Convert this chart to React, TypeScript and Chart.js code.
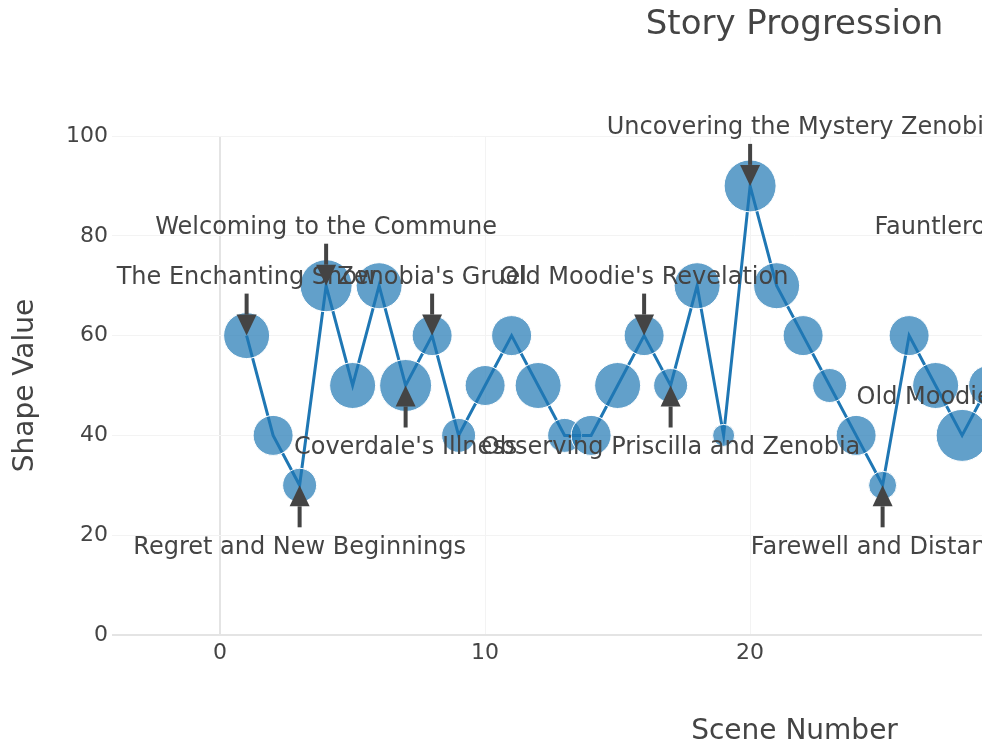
import React, { useEffect, useRef } from "react";
import { Chart, registerables } from "chart.js";

Chart.register(...registerables);

// ---- data ----
const scenes = [
  1, 2, 3, 4, 5, 6, 7, 8, 9, 10, 11, 12, 13, 14, 15, 16,
  17, 18, 19, 20, 21, 22, 23, 24, 25, 26, 27, 28, 29, 30, 31, 32,
];
const shapeValues = [
  60, 40, 30, 70, 50, 70, 50, 60, 40, 50, 60, 50, 40, 40, 50, 60,
  50, 70, 40, 90, 70, 60, 50, 40, 30, 60, 50, 40, 50, 60, 70, 90,
];
const intensity = [
  7, 6, 5, 8, 7, 7, 8, 6, 5, 6, 6, 7, 5, 6, 7, 6,
  5, 7, 3, 8, 7, 6, 5, 6, 4, 6, 7, 8, 6, 6, 7, 8,
];
const eventScenes = [1, 3, 4, 7, 8, 16, 17, 20, 25, 30, 31, 32];
const eventLabels = [
  "The Enchanting Show",
  "Regret and New Beginnings",
  "Welcoming to the Commune",
  "Coverdale's Illness",
  "Zenobia's Gruel",
  "Old Moodie's Revelation",
  "Observing Priscilla and Zenobia",
  "Uncovering the Mystery",
  "Farewell and Distance",
  "Old Moodie's Last Request",
  "Fauntleroy's Story Revealed",
  "Zenobia's Tragic Confession",
];
const eventPlacement = [
  "above", "below", "above", "below", "above", "above",
  "below", "above", "below", "below", "above", "above",
];
const xTickStep = 10;
const yTickStep = 20;

const FONT = "'DejaVu Sans', Verdana, sans-serif";
const TEXT = "#444";

const annotationPlugin = {
  id: "storyAnnotations",
  afterDatasetsDraw(chart: any) {
    const { ctx, scales } = chart;
    const xs = scales.x;
    const ys = scales.y;
    ctx.save();
    eventScenes.forEach((scene, i) => {
      const idx = scenes.indexOf(scene);
      const px = xs.getPixelForValue(scene);
      const py = ys.getPixelForValue(shapeValues[idx]);
      const dir = eventPlacement[i] === "above" ? -1 : 1;
      const textY = py + dir * 60;
      const tailY = textY - dir * 18;
      const headLen = 21;
      const headHalf = 10;
      const baseY = py + dir * headLen;
      ctx.strokeStyle = TEXT;
      ctx.lineWidth = 4;
      ctx.beginPath();
      ctx.moveTo(px, tailY);
      ctx.lineTo(px, baseY);
      ctx.stroke();
      ctx.fillStyle = TEXT;
      ctx.beginPath();
      ctx.moveTo(px, py);
      ctx.lineTo(px - headHalf, baseY);
      ctx.lineTo(px + headHalf, baseY);
      ctx.closePath();
      ctx.fill();
      ctx.font = `24px ${FONT}`;
      ctx.textAlign = "center";
      ctx.textBaseline = "middle";
      ctx.fillText(eventLabels[i], px, textY + 2);
    });
    ctx.restore();
  },
};

export default function App() {
  const ref = useRef<HTMLCanvasElement | null>(null);

  useEffect(() => {
    if (!ref.current) return;
    const W = 1586;
    const plotRight = 1477;
    const chart = new Chart(ref.current, {
      type: "line",
      data: {
        datasets: [
          {
            label: "Shape Value",
            data: scenes.map((s, i) => ({ x: s, y: shapeValues[i] })),
            borderColor: "#1f77b4",
            borderWidth: 3,
            backgroundColor: "rgba(31,119,180,0.7)",
            pointBackgroundColor: "rgba(31,119,180,0.7)",
            pointBorderColor: "#ffffff",
            pointBorderWidth: 1,
            pointRadius: intensity.map((v) => (v * 6 + 4) / 2),
            pointHoverRadius: intensity.map((v) => (v * 6 + 4) / 2),
            tension: 0,
            fill: false,
            clip: false as any,
          },
        ],
      },
      options: {
        animation: false,
        responsive: false,
        devicePixelRatio: 1,
        events: [],
        layout: { padding: { top: 0, left: 0, right: W - plotRight, bottom: 0 } },
        plugins: {
          legend: { display: false },
          tooltip: { enabled: false },
          title: {
            display: true,
            text: "Story Progression",
            fullSize: false,
            color: TEXT,
            font: { family: FONT, size: 34, weight: "normal" },
            padding: { top: 5, bottom: 90.2 },
          },
        },
        scales: {
          x: {
            type: "linear",
            min: -4.08,
            max: 47.43,
            afterFit: (s: any) => {
              s.height = 125;
            },
            border: { display: false },
            grid: {
              drawTicks: false,
              color: (c: any) => (c.tick && c.tick.value === 0 ? "#e4e4e4" : "#f3f3f3"),
              lineWidth: (c: any) => (c.tick && c.tick.value === 0 ? 2 : 1),
            },
            ticks: {
              stepSize: xTickStep,
              includeBounds: false,
              padding: 5,
              color: TEXT,
              font: { family: FONT, size: 22 },
              maxRotation: 0,
            },
            title: {
              display: true,
              text: "Scene Number",
              color: TEXT,
              font: { family: FONT, size: 28 },
              padding: { top: 0, bottom: 11 },
            },
          },
          y: {
            type: "linear",
            min: 0,
            max: 100,
            afterFit: (s: any) => {
              s.width = 112;
            },
            border: { display: false },
            grid: {
              drawTicks: false,
              color: (c: any) => (c.tick && c.tick.value === 0 ? "#e4e4e4" : "#f3f3f3"),
              lineWidth: (c: any) => (c.tick && c.tick.value === 0 ? 2 : 1),
            },
            ticks: {
              stepSize: yTickStep,
              padding: 4,
              color: TEXT,
              font: { family: FONT, size: 22 },
            },
            title: {
              display: true,
              text: "Shape Value",
              color: TEXT,
              font: { family: FONT, size: 28 },
              padding: { top: 8.7, bottom: 0 },
            },
          },
        },
      },
      plugins: [annotationPlugin],
    });
    return () => chart.destroy();
  }, []);

  return (
    <div
      style={{
        position: "absolute",
        left: 0,
        top: 0,
        width: 982,
        height: 746,
        overflow: "hidden",
        background: "#fff",
      }}
    >
      <canvas ref={ref} width={1586} height={760} style={{ display: "block" }} />
    </div>
  );
}
